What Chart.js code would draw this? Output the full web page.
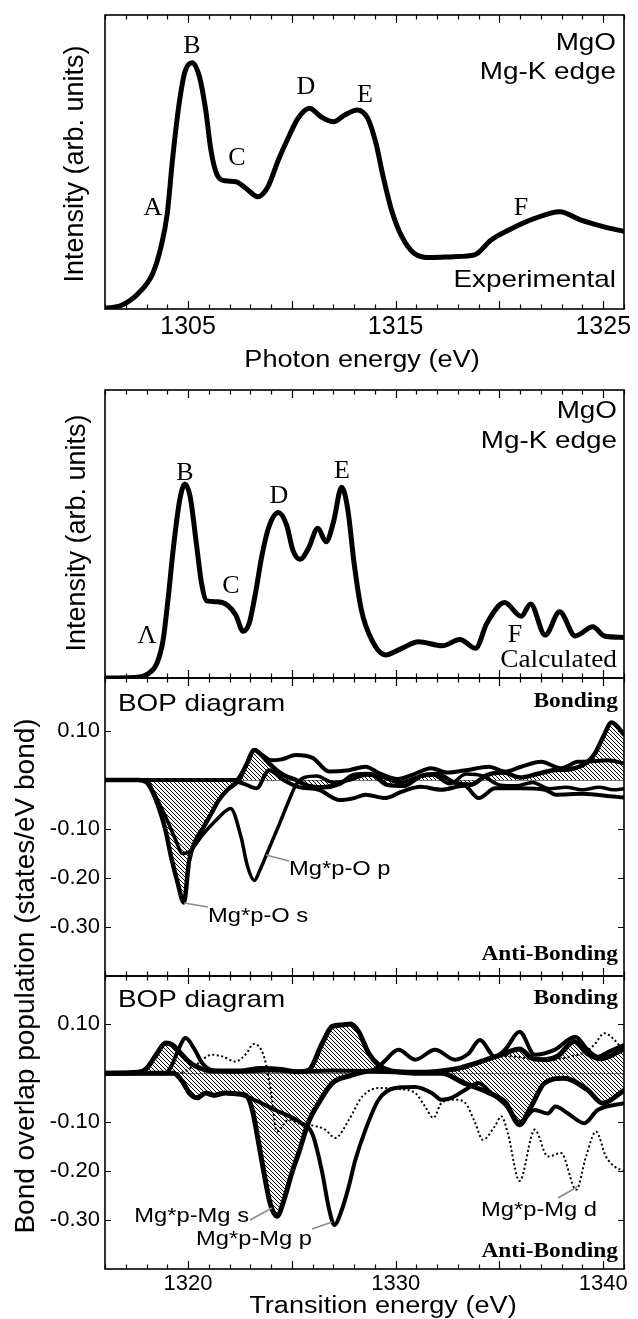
<!DOCTYPE html>
<html>
<head>
<meta charset="utf-8">
<title>MgO Mg-K edge: XANES and BOP diagrams</title>
<script src="https://cdn.jsdelivr.net/npm/chart.js@4.4.1/dist/chart.umd.min.js"></script>
<style>
  html, body { margin: 0; padding: 0; background: #fff; }
  #page { position: relative; width: 638px; height: 1319px; overflow: hidden; }
  #page canvas { position: absolute; left: 0; top: 0; }
</style>
</head>
<body>
<div id="page">
  <canvas id="expChart" width="638" height="1319"></canvas>
  <canvas id="calcChart" width="638" height="1319"></canvas>
  <canvas id="bopOChart" width="638" height="1319"></canvas>
  <canvas id="bopMgChart" width="638" height="1319"></canvas>
</div>
<script>
/* ─── Data ─── */

// tick labels
const photonTicks = [1305, 1315, 1325];
const transTicks  = [1320, 1330, 1340];
const bopTicks    = [-0.30, -0.20, -0.10, 0.10];

// experimental Mg-K edge (arb. units)
const expEnergy    = [1301.0, 1301.8, 1302.6, 1303.3, 1303.7, 1304.0, 1304.25, 1304.55, 1304.85, 1305.2, 1305.55, 1305.85, 1306.1, 1306.4, 1306.8, 1307.3, 1307.8, 1308.35, 1308.85, 1309.35, 1309.85, 1310.3, 1310.85, 1311.4, 1312.0, 1312.55, 1313.15, 1313.65, 1314.05, 1314.4, 1314.8, 1315.3, 1315.9, 1316.7, 1317.8, 1318.8, 1319.6, 1320.6, 1321.7, 1322.9, 1323.9, 1325.0, 1326.0];
const expIntensity = [0.002, 0.013, 0.053, 0.121, 0.212, 0.325, 0.507, 0.688, 0.807, 0.838, 0.790, 0.677, 0.541, 0.456, 0.436, 0.433, 0.410, 0.382, 0.416, 0.507, 0.586, 0.649, 0.683, 0.654, 0.637, 0.660, 0.677, 0.649, 0.564, 0.450, 0.337, 0.246, 0.189, 0.175, 0.178, 0.184, 0.235, 0.274, 0.308, 0.331, 0.303, 0.280, 0.264];

// calculated Mg-K edge (arb. units)
const calcEnergy    = [1316, 1317.4, 1318.1, 1318.5, 1318.8, 1319.05, 1319.3, 1319.6, 1319.85, 1320.1, 1320.4, 1320.65, 1320.9, 1321.4, 1321.9, 1322.3, 1322.65, 1322.95, 1323.25, 1323.55, 1323.9, 1324.35, 1324.75, 1325.05, 1325.4, 1325.8, 1326.25, 1326.65, 1327.0, 1327.4, 1327.7, 1328.0, 1328.35, 1328.85, 1329.5, 1330.3, 1331.1, 1332.25, 1333.1, 1333.85, 1334.4, 1335.25, 1336.05, 1336.5, 1337.2, 1337.9, 1338.65, 1339.5, 1340.05, 1341];
const calcIntensity = [0, 0.002, 0.016, 0.051, 0.132, 0.282, 0.456, 0.618, 0.674, 0.630, 0.468, 0.329, 0.268, 0.265, 0.253, 0.219, 0.162, 0.191, 0.295, 0.422, 0.526, 0.575, 0.531, 0.444, 0.412, 0.450, 0.520, 0.473, 0.540, 0.662, 0.583, 0.398, 0.236, 0.132, 0.080, 0.103, 0.126, 0.112, 0.134, 0.103, 0.191, 0.262, 0.214, 0.257, 0.149, 0.230, 0.146, 0.178, 0.146, 0.141];

// BOP Mg*p - O (states/eV bond)
const pOsE = [1316, 1317.6, 1318.0, 1318.45, 1318.9, 1319.2, 1319.5, 1319.8, 1320.05, 1320.35, 1320.7, 1321.1, 1321.5, 1321.9, 1322.45, 1322.8, 1323.2, 1323.55, 1323.9, 1324.6, 1325.2, 1325.8, 1326.5, 1327.3, 1328.0, 1328.8, 1329.6, 1330.4, 1331.2, 1332.0, 1332.8, 1333.6, 1334.4, 1335.2, 1336.0, 1336.8, 1337.6, 1338.4, 1339.2, 1339.6, 1340.0, 1340.4, 1341.0];
const pOs  = [0, 0, -0.005, -0.04, -0.1, -0.16, -0.21, -0.25, -0.165, -0.125, -0.1, -0.07, -0.04, -0.02, 0, 0.03, 0.061, 0.05, 0.034, 0.01, 0, -0.012, -0.015, -0.008, 0.01, 0.012, -0.01, -0.012, 0.008, 0.012, -0.005, -0.01, 0.01, 0.015, 0.005, 0.012, 0.02, 0.022, 0.035, 0.054, 0.088, 0.117, 0.093];
const pOpE = [1316, 1318.0, 1318.28, 1318.92, 1319.4, 1319.72, 1320.1, 1320.7, 1321.4, 1322.05, 1322.55, 1322.87, 1323.2, 1323.45, 1323.9, 1324.4, 1324.87, 1325.2, 1325.6, 1326.2, 1327.0, 1327.8, 1328.6, 1329.4, 1330.2, 1331.0, 1331.8, 1332.6, 1333.4, 1334.2, 1335.0, 1335.8, 1336.6, 1337.4, 1338.2, 1339.0, 1339.8, 1340.5, 1341];
const pOp  = [0, 0, -0.02, -0.075, -0.122, -0.15, -0.145, -0.112, -0.08, -0.058, -0.116, -0.177, -0.205, -0.185, -0.14, -0.09, -0.041, -0.01, 0.005, 0.008, -0.005, 0, 0.01, 0.005, -0.005, 0.005, 0.01, -0.008, 0.012, 0.008, -0.01, -0.012, -0.005, -0.018, -0.015, -0.02, -0.015, -0.02, -0.018];
const pOuE = [1316, 1322.3, 1322.8, 1323.2, 1323.6, 1324.0, 1324.5, 1325.2, 1326.0, 1326.8, 1327.75, 1328.55, 1329.2, 1330.1, 1330.9, 1331.7, 1332.5, 1333.4, 1334.5, 1335.26, 1336.05, 1337.0, 1337.97, 1338.77, 1339.5, 1340.2, 1341];
const pOu  = [0, 0, 0.03, 0.061, 0.05, 0.04, 0.042, 0.051, 0.045, 0.017, 0.02, 0.027, 0.014, 0.002, 0.012, 0.024, 0.015, 0.02, 0.027, 0.017, 0.027, 0.037, 0.024, 0.037, 0.038, 0.04, 0.034];
const pOlE = [1316, 1322.0, 1322.7, 1323.3, 1323.9, 1324.6, 1325.3, 1326.3, 1327.3, 1328.0, 1328.55, 1329.5, 1330.3, 1331.2, 1332.2, 1333.3, 1334.0, 1334.8, 1336.0, 1337.2, 1337.7, 1339.0, 1340.5, 1341];
const pOl  = [0, 0, -0.008, -0.017, 0.02, 0.0, -0.014, -0.02, -0.041, -0.037, -0.03, -0.037, -0.024, -0.014, -0.02, -0.012, -0.037, -0.017, -0.017, -0.02, -0.03, -0.028, -0.034, -0.036];

// BOP Mg*p - Mg (states/eV bond)
const pMgsE = [1316, 1319.3, 1319.7, 1320.1, 1320.45, 1320.85, 1321.25, 1321.8, 1322.4, 1322.8, 1323.1, 1323.35, 1323.6, 1323.95, 1324.28, 1324.65, 1325.0, 1325.35, 1325.8, 1326.3, 1326.95, 1327.8, 1328.8, 1330.0, 1331.0, 1332.2, 1333.3, 1334.5, 1335.3, 1335.97, 1336.5, 1337.17, 1338.1, 1339.25, 1339.97, 1341];
const pMgs  = [0, 0, -0.015, -0.042, -0.05, -0.04, -0.045, -0.04, -0.042, -0.045, -0.075, -0.13, -0.19, -0.265, -0.292, -0.255, -0.203, -0.16, -0.1, -0.06, -0.02, -0.005, 0.005, 0.003, 0, 0, -0.02, -0.04, -0.06, -0.105, -0.07, -0.02, -0.01, -0.034, -0.061, -0.035];
const pMgpE = [1316, 1319.3, 1319.7, 1320.1, 1320.45, 1320.85, 1321.25, 1321.8, 1322.4, 1322.8, 1323.5, 1324.2, 1324.9, 1325.4, 1326.0, 1326.45, 1326.8, 1327.05, 1327.4, 1327.75, 1328.06, 1328.55, 1329.18, 1329.98, 1330.94, 1331.74, 1332.2, 1332.7, 1333.34, 1333.98, 1334.6, 1335.3, 1335.97, 1336.7, 1337.33, 1337.7, 1338.3, 1339.09, 1339.73, 1341];
const pMgp  = [0, 0, -0.015, -0.042, -0.05, -0.04, -0.045, -0.04, -0.042, -0.047, -0.06, -0.075, -0.088, -0.1, -0.125, -0.2, -0.279, -0.31, -0.28, -0.23, -0.177, -0.115, -0.054, -0.03, -0.028, -0.04, -0.054, -0.05, -0.034, -0.02, -0.04, -0.065, -0.1, -0.075, -0.082, -0.068, -0.082, -0.102, -0.075, -0.061];
const pMghE = [1316, 1317.6, 1318.0, 1318.5, 1318.92, 1319.25, 1319.56, 1320.0, 1320.5, 1321.2, 1322.5, 1323.5, 1324.5, 1325.3, 1325.83, 1326.47, 1326.95, 1327.42, 1327.83, 1328.22, 1328.7, 1329.18, 1329.8, 1331.0, 1332.0, 1333.0, 1333.8, 1334.5, 1335.2, 1335.97, 1336.6, 1337.2, 1337.8, 1338.6, 1339.25, 1339.9, 1341];
const pMgh  = [0, 0.002, 0.01, 0.04, 0.062, 0.058, 0.045, 0.025, 0.012, 0.005, 0.005, 0.01, 0.008, 0.003, 0.007, 0.062, 0.096, 0.099, 0.101, 0.085, 0.041, 0.017, 0.005, 0.002, 0.004, 0.01, 0.02, 0.03, 0.04, 0.05, 0.03, 0.028, 0.035, 0.065, 0.04, 0.03, 0.05];
const pMgtE = [1316, 1318.9, 1319.2, 1319.5, 1319.88, 1320.3, 1320.7, 1321.2, 1322.5, 1324, 1325.5, 1327, 1328.8, 1329.34, 1330.14, 1330.94, 1331.9, 1332.86, 1333.5, 1334.06, 1334.78, 1335.3, 1335.97, 1336.7, 1337.65, 1338.65, 1339.25, 1339.73, 1340.3, 1341];
const pMgt  = [0, 0, 0.015, 0.045, 0.072, 0.05, 0.02, 0.006, 0.004, 0.006, 0.004, 0.006, 0.005, 0.02, 0.048, 0.028, 0.048, 0.028, 0.04, 0.068, 0.034, 0.05, 0.085, 0.038, 0.048, 0.075, 0.048, 0.034, 0.045, 0.058];
const pMgdE = [1316, 1319.5, 1320.3, 1321.16, 1321.7, 1322.28, 1322.8, 1323.16, 1323.5, 1323.72, 1324.0, 1324.28, 1324.84, 1325.35, 1326.15, 1326.6, 1327.1, 1327.75, 1328.4, 1329.2, 1330.14, 1330.94, 1331.42, 1331.82, 1332.22, 1332.86, 1333.34, 1333.82, 1334.2, 1334.78, 1335.1, 1335.4, 1335.97, 1336.7, 1337.33, 1337.97, 1338.7, 1339.17, 1339.65, 1340.13, 1340.53, 1341];
const pMgd  = [0, 0, 0.015, 0.038, 0.034, 0.024, 0.04, 0.06, 0.05, 0.025, -0.04, -0.119, -0.095, -0.102, -0.108, -0.115, -0.132, -0.095, -0.047, -0.03, -0.032, -0.04, -0.068, -0.091, -0.06, -0.054, -0.06, -0.1, -0.136, -0.108, -0.088, -0.122, -0.22, -0.115, -0.17, -0.163, -0.238, -0.17, -0.119, -0.17, -0.19, -0.2];
const pMgd2E = [1333.0, 1334.0, 1334.6, 1335.5, 1336.5, 1337.5, 1338.5, 1339.2, 1339.6, 1340.05, 1340.5, 1341];
const pMgd2  = [0.005, 0.02, 0.03, 0.035, 0.03, 0.028, 0.035, 0.045, 0.06, 0.082, 0.07, 0.045];

/* ─── Layout / style ─── */
const W = 638, H = 1319;
const LEFT = 105, RIGHT = 624;
const SANS  = '"Liberation Sans", Arial, sans-serif';
const SERIF = '"Liberation Serif", "Times New Roman", serif';

const fSans   = `24px ${SANS}`;
const fLetter = `26px ${SERIF}`;
const fBond   = `bold 20px ${SERIF}`;
const fCurve  = `21px ${SANS}`;
const fTitle  = `23px ${SANS}`;
const fVTitle = `27px ${SANS}`;
const fVTitleBop = `28px ${SANS}`;

function pts(xs, ys) { return xs.map((x, i) => ({ x: x, y: ys[i] })); }

function hatch() {
  const c = document.createElement("canvas");
  c.width = c.height = 4;
  const g = c.getContext("2d");
  g.strokeStyle = "#000";
  g.lineWidth = 1;
  g.beginPath();
  g.moveTo(-1, -1); g.lineTo(5, 5);
  g.moveTo(-1, 3);  g.lineTo(1, 5);
  g.moveTo(3, -1);  g.lineTo(5, 1);
  g.stroke();
  return g.createPattern(c, "repeat");
}
const HATCH = hatch();

function curve(label, xs, ys, width, extra) {
  return Object.assign({
    label: label,
    data: pts(xs, ys),
    borderColor: "#000",
    borderWidth: width,
    borderJoinStyle: "round",
    borderCapStyle: "round",
    pointRadius: 0,
    fill: false,
    cubicInterpolationMode: "monotone",
  }, extra || {});
}
const hatched = { fill: "origin", backgroundColor: HATCH };

/* ─── text helpers ─── */
function stretchText(ctx, str, x, y, font, align, sx) {
  sx = sx || 1;
  ctx.font = font;
  const w = ctx.measureText(str).width * sx;
  const left = align === "right" ? x - w : align === "center" ? x - w / 2 : x;
  ctx.save();
  ctx.translate(left, y);
  ctx.scale(sx, 1);
  ctx.textAlign = "left";
  ctx.textBaseline = "alphabetic";
  ctx.fillStyle = "#000";
  ctx.fillText(str, 0, 0);
  ctx.restore();
}

function vText(ctx, str, cx, cy, font) {
  ctx.save();
  ctx.translate(cx, cy);
  ctx.rotate(-Math.PI / 2);
  ctx.font = font;
  ctx.fillStyle = "#000";
  ctx.textAlign = "center";
  ctx.textBaseline = "middle";
  ctx.fillText(str, 0, 0);
  ctx.restore();
}

/* ─── frame, inside ticks, zero line, labels ─── */
function decor(spec) {
  return {
    id: "decor",
    beforeDatasetsDraw(chart) {
      if (!spec.zero) return;
      const { ctx, chartArea: a, scales: { y } } = chart;
      const py = Math.round(y.getPixelForValue(0)) + 0.5;
      ctx.save();
      ctx.strokeStyle = "#777";
      ctx.lineWidth = 1;
      ctx.beginPath(); ctx.moveTo(a.left, py); ctx.lineTo(a.right, py); ctx.stroke();
      ctx.restore();
    },
    afterDatasetsDraw(chart) {
      const { ctx, chartArea: a, scales: { x, y } } = chart;
      ctx.save();
      ctx.strokeStyle = "#000";
      ctx.lineWidth = 1.2;
      ctx.beginPath();
      for (let v = Math.ceil(x.min); v <= x.max; v++) {
        const px = Math.round(x.getPixelForValue(v)) + 0.5;
        const len = v % 5 === 0 ? 8 : 4.5;
        ctx.moveTo(px, a.bottom); ctx.lineTo(px, a.bottom - len);
        ctx.moveTo(px, a.top);    ctx.lineTo(px, a.top + len);
      }
      (spec.yTicks || []).forEach(v => {
        const py = Math.round(y.getPixelForValue(v)) + 0.5;
        ctx.moveTo(a.left, py);  ctx.lineTo(a.left + 6, py);
        ctx.moveTo(a.right, py); ctx.lineTo(a.right - 6, py);
      });
      ctx.stroke();
      ctx.lineWidth = 1.6;
      ctx.strokeRect(a.left, a.top, a.right - a.left, a.bottom - a.top);
      ctx.restore();
    },
    afterDraw(chart) {
      const ctx = chart.ctx;
      (spec.leaders || []).forEach(l => {
        ctx.save();
        ctx.strokeStyle = "#8a8a8a";
        ctx.lineWidth = 1.5;
        ctx.beginPath(); ctx.moveTo(l[0], l[1]); ctx.lineTo(l[2], l[3]); ctx.stroke();
        ctx.restore();
      });
      (spec.labels || []).forEach(t => stretchText(ctx, t.t, t.x, t.y, t.f, t.a, t.s));
      (spec.vlabels || []).forEach(t => vText(ctx, t.t, t.x, t.y, t.f));
    },
  };
}

/* ─── scales ─── */
function xScale(min, max, ticks, size, pad, height) {
  return {
    type: "linear", min: min, max: max, display: !!ticks,
    grid: { display: false, drawTicks: false },
    border: { display: false },
    ticks: {
      font: { family: SANS, size: size || 21 }, color: "#000",
      padding: pad || 0, maxRotation: 0, autoSkip: false,
      callback: v => String(v),
    },
    afterBuildTicks: s => { if (ticks) s.ticks = ticks.map(v => ({ value: v })); },
    afterFit: s => { s.height = height || 0; },
  };
}

function yHidden(min, max) {
  return { type: "linear", min: min, max: max, display: false };
}

function yBop(min, max) {
  return {
    type: "linear", min: min, max: max,
    grid: { display: false, drawTicks: false },
    border: { display: false },
    ticks: {
      font: { family: SANS, size: 22 }, color: "#000", padding: 5,
      callback: v => v.toFixed(2),
    },
    afterBuildTicks: s => { s.ticks = bopTicks.map(v => ({ value: v })); },
    afterFit: s => { s.width = LEFT; },
  };
}

function makeChart(id, cfg) {
  return new Chart(document.getElementById(id), {
    type: "line",
    data: { datasets: cfg.datasets },
    options: {
      responsive: false, animation: false, devicePixelRatio: 1, events: [],
      layout: { padding: cfg.padding, autoPadding: false },
      plugins: { legend: { display: false }, tooltip: { enabled: false } },
      scales: { x: cfg.x, y: cfg.y },
    },
    plugins: [decor(cfg.decor)],
  });
}

/* ─── Panel 1: experimental ─── */
makeChart("expChart", {
  padding: { left: LEFT, right: W - RIGHT, top: 15, bottom: H - 309 - 64 },
  x: xScale(1301, 1326, photonTicks, 25, 3, 64),
  y: yHidden(0, 1),
  datasets: [curve("Experimental", expEnergy, expIntensity, 5)],
  decor: {
    labels: [
      { t: "MgO", x: 616, y: 50, f: fSans, a: "right", s: 1.16 },
      { t: "Mg-K edge", x: 616, y: 79, f: fSans, a: "right", s: 1.16 },
      { t: "Experimental", x: 616, y: 287, f: fSans, a: "right", s: 1.16 },
      { t: "A", x: 153, y: 215, f: fLetter, a: "center" },
      { t: "B", x: 192, y: 53, f: fLetter, a: "center" },
      { t: "C", x: 237, y: 165, f: fLetter, a: "center" },
      { t: "D", x: 306, y: 94, f: fLetter, a: "center" },
      { t: "E", x: 365, y: 102, f: fLetter, a: "center" },
      { t: "F", x: 521, y: 215, f: fLetter, a: "center" },
      { t: "Photon energy (eV)", x: 362, y: 367, f: fTitle, a: "center", s: 1.18 },
    ],
    vlabels: [{ t: "Intensity (arb. units)", x: 76, y: 164, f: fVTitle }],
  },
});

/* ─── Panel 2: calculated ─── */
makeChart("calcChart", {
  padding: { left: LEFT, right: W - RIGHT, top: 390, bottom: H - 678 },
  x: xScale(1316, 1341),
  y: yHidden(0, 1),
  datasets: [curve("Calculated", calcEnergy, calcIntensity, 5)],
  decor: {
    labels: [
      { t: "MgO", x: 617, y: 418, f: fSans, a: "right", s: 1.16 },
      { t: "Mg-K edge", x: 617, y: 448, f: fSans, a: "right", s: 1.16 },
      { t: "Calculated", x: 617, y: 667, f: fLetter, a: "right", s: 1.05 },
      { t: "Λ", x: 147, y: 643, f: fLetter, a: "center" },
      { t: "B", x: 185, y: 480, f: fLetter, a: "center" },
      { t: "C", x: 231, y: 593, f: fLetter, a: "center" },
      { t: "D", x: 279, y: 503, f: fLetter, a: "center" },
      { t: "E", x: 342, y: 478, f: fLetter, a: "center" },
      { t: "F", x: 515, y: 642, f: fLetter, a: "center" },
    ],
    vlabels: [{ t: "Intensity (arb. units)", x: 78, y: 533, f: fVTitle }],
  },
});

/* ─── Panel 3: BOP Mg*p-O ─── */
makeChart("bopOChart", {
  padding: { left: 0, right: W - RIGHT, top: 678, bottom: H - 976 },
  x: xScale(1316, 1341),
  y: yBop(-0.40, 0.208),
  datasets: [
    curve("Mg*p-O s", pOsE, pOs, 4.5, hatched),
    curve("Mg*p-O p", pOpE, pOp, 3.5),
    curve("Mg*p-O (upper)", pOuE, pOu, 4),
    curve("Mg*p-O (lower)", pOlE, pOl, 4),
  ],
  decor: {
    zero: true, yTicks: bopTicks,
    leaders: [[266, 855, 289, 861], [184, 903, 208, 907]],
    labels: [
      { t: "BOP diagram", x: 118, y: 711, f: fSans, a: "left", s: 1.16 },
      { t: "Bonding", x: 618, y: 707, f: fBond, a: "right", s: 1.17 },
      { t: "Anti-Bonding", x: 618, y: 960, f: fBond, a: "right", s: 1.17 },
      { t: "Mg*p-O p", x: 289, y: 875, f: fCurve, a: "left", s: 1.13 },
      { t: "Mg*p-O s", x: 208, y: 922, f: fCurve, a: "left", s: 1.13 },
    ],
  },
});

/* ─── Panel 4: BOP Mg*p-Mg ─── */
makeChart("bopMgChart", {
  padding: { left: 0, right: W - RIGHT, top: 976, bottom: H - 1269 - 49 },
  x: xScale(1316, 1341, transTicks, 22, 2, 49),
  y: yBop(-0.40, 0.199),
  datasets: [
    curve("Mg*p-Mg s", pMgsE, pMgs, 5, hatched),
    curve("Mg*p-Mg (bonding)", pMghE, pMgh, 5, hatched),
    curve("Mg*p-Mg p", pMgpE, pMgp, 4),
    curve("Mg*p-Mg (upper)", pMgtE, pMgt, 4),
    curve("Mg*p-Mg d", pMgdE, pMgd, 2, { borderDash: [2, 2.5], borderCapStyle: "butt" }),
    curve("Mg*p-Mg d'", pMgd2E, pMgd2, 2, { borderDash: [2, 2.5], borderCapStyle: "butt" }),
  ],
  decor: {
    zero: true, yTicks: bopTicks,
    leaders: [[250, 1220, 272, 1208], [312, 1229, 332, 1222], [558, 1198, 577, 1187]],
    labels: [
      { t: "BOP diagram", x: 118, y: 1007, f: fSans, a: "left", s: 1.16 },
      { t: "Bonding", x: 618, y: 1004, f: fBond, a: "right", s: 1.17 },
      { t: "Anti-Bonding", x: 618, y: 1257, f: fBond, a: "right", s: 1.17 },
      { t: "Mg*p-Mg s", x: 249, y: 1222, f: fCurve, a: "right", s: 1.13 },
      { t: "Mg*p-Mg p", x: 196, y: 1245, f: fCurve, a: "left", s: 1.13 },
      { t: "Mg*p-Mg d", x: 481, y: 1216, f: fCurve, a: "left", s: 1.13 },
      { t: "Transition energy (eV)", x: 383, y: 1313, f: fTitle, a: "center", s: 1.18 },
    ],
    vlabels: [{ t: "Bond overlap population (states/eV bond)", x: 26, y: 976, f: fVTitleBop }],
  },
});
</script>
</body>
</html>
